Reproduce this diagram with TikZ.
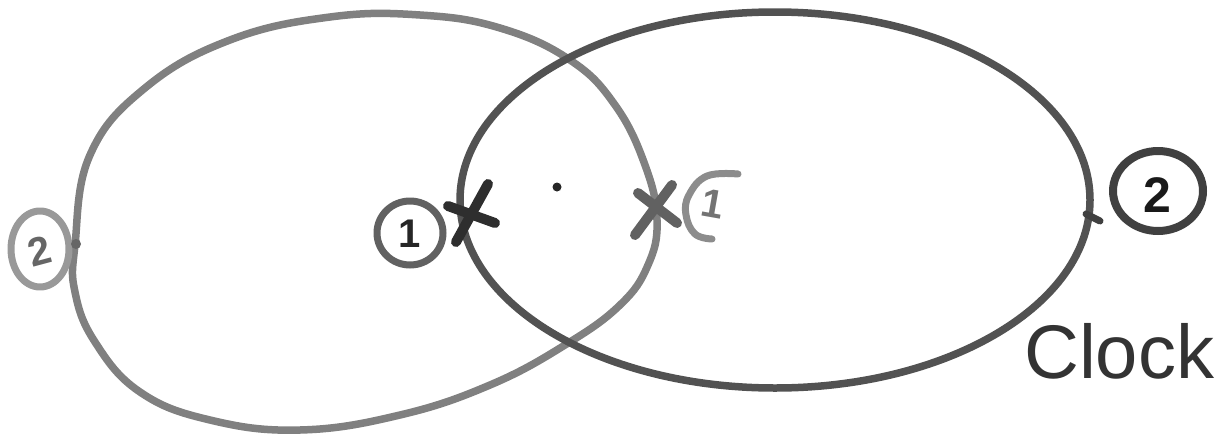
\documentclass[tikz,border=0pt]{standalone}
\usepackage{fontspec}
\setmainfont{Liberation Sans}
\usetikzlibrary{shapes.geometric}
\begin{document}
\begin{tikzpicture}[x=1pt,y=-1pt,
  grayink/.style={draw=black!50,line width=7.5pt,line cap=round,line join=round},
  darkink/.style={draw=black!68,line width=7.5pt,line cap=round,line join=round},
  lab/.style={font=\fontsize{40}{40}\selectfont\bfseries,inner sep=0pt}]
\useasboundingbox (0,0) rectangle (1217,434);
% left gray loop
\draw[grayink] plot[smooth cycle,tension=0.7] coordinates {(75,245) (90,155) (145,88) (230,40) (330,17) (420,15) (500,28) (570,60) (615,105) (645,165) (657,220) (648,265) (620,305) (565,345) (490,385) (400,415) (300,430) (210,420) (140,392) (95,342) (75,292)};
% right dark loop
\draw[darkink] (775,200) ellipse [x radius=315,y radius=188];
% left gray circled 2
\node[grayink,ellipse,minimum width=58pt,minimum height=76pt,inner sep=0pt,line width=7pt,draw=black!40] (g2) at (40,249) {};
\node[lab,text=black!60,rotate=15] (g2t) at (40,251) {2};
\fill[black!60] (76,244) circle (5pt);
% dark circled 1 with cross
\node[darkink,ellipse,minimum width=66pt,minimum height=64pt,inner sep=0pt,line width=7pt,draw=black!62] (d1) at (410,233) {};
\node[lab,text=black!85] (d1t) at (410,234) {1};
\coordinate (dx) at (472,212);
\draw[darkink,draw=black!82,line width=10pt] (dx) ++(16,-28) -- ++(-32,58);
\draw[darkink,draw=black!82,line width=10pt] (dx) ++(-24,-6) -- ++(47,17);
% center dot
\fill[black!85] (557,187) circle (4.5pt);
% gray cross and circled 1
\coordinate (gx) at (655,210);
\draw[grayink,draw=black!62,line width=10pt] (gx) ++(17,-25) -- ++(-37,50);
\draw[grayink,draw=black!62,line width=10pt] (gx) ++(-17,-17) -- ++(39,30);
\draw[grayink,draw=black!45,line width=7pt] plot[smooth,tension=0.7] coordinates {(738,174) (707,176) (689,195) (686,215) (695,234) (712,239)};
\node[lab,text=black!55,rotate=-10] (g1t) at (713,204) {1};
% dark circled 2
\draw[darkink,draw=black!75,line width=7pt] (1100,221) -- (1086,214);
\node[darkink,ellipse,minimum width=90pt,minimum height=80pt,inner sep=0pt,line width=8pt,draw=black!75] (d2) at (1158,191) {};
\node[font=\fontsize{50}{50}\selectfont\bfseries,text=black!90,inner sep=0pt] (d2t) at (1157,195) {2};
% label
\node[font=\fontsize{76}{76}\selectfont,text=black!80,anchor=base west,inner sep=0pt] (clk) at (1024,378) {Clock};
\end{tikzpicture}
\end{document}
